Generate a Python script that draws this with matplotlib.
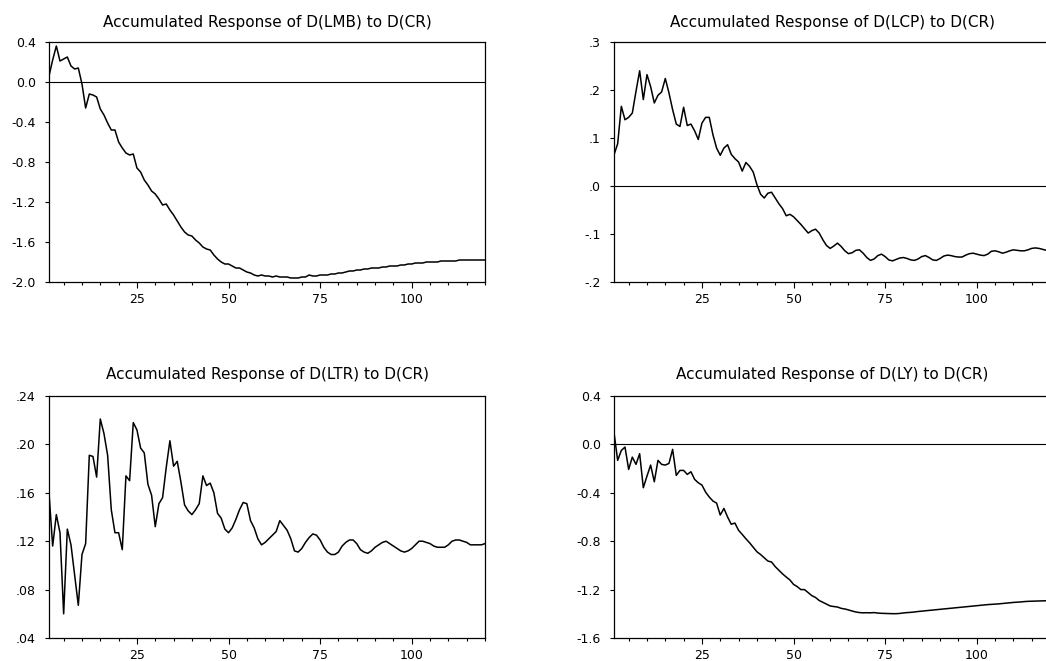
import matplotlib
matplotlib.use("Agg")
import matplotlib.pyplot as plt
import numpy as np

plt.rcParams['font.family'] = ['DejaVu Sans']

periods = np.arange(1, 121)

# accumulated responses, periods 1..120
lmb = [0.06, 0.22, 0.36, 0.21, 0.23, 0.25, 0.16, 0.13, 0.14, -0.02,
       -0.26, -0.12, -0.13, -0.15, -0.27, -0.33, -0.41, -0.48, -0.48, -0.60,
       -0.66, -0.71, -0.73, -0.72, -0.86, -0.90, -0.98, -1.03, -1.09, -1.12,
       -1.17, -1.23, -1.22, -1.28, -1.33, -1.39, -1.45, -1.50, -1.53, -1.54,
       -1.58, -1.61, -1.65, -1.67, -1.68, -1.73, -1.77, -1.80, -1.82, -1.82,
       -1.84, -1.86, -1.86, -1.88, -1.90, -1.91, -1.93, -1.94, -1.93, -1.94,
       -1.94, -1.95, -1.94, -1.95, -1.95, -1.95, -1.96, -1.96, -1.96, -1.95,
       -1.95, -1.93, -1.94, -1.94, -1.93, -1.93, -1.93, -1.92, -1.92, -1.91,
       -1.91, -1.90, -1.89, -1.89, -1.88, -1.88, -1.87, -1.87, -1.86, -1.86,
       -1.86, -1.85, -1.85, -1.84, -1.84, -1.84, -1.83, -1.83, -1.82, -1.82,
       -1.81, -1.81, -1.81, -1.80, -1.80, -1.80, -1.80, -1.79, -1.79, -1.79,
       -1.79, -1.79, -1.78, -1.78, -1.78, -1.78, -1.78, -1.78, -1.78, -1.78]

lcp = [0.065, 0.088, 0.166, 0.138, 0.143, 0.152, 0.197, 0.240, 0.180, 0.232,
       0.207, 0.173, 0.189, 0.196, 0.224, 0.194, 0.159, 0.129, 0.124, 0.164,
       0.126, 0.129, 0.115, 0.097, 0.131, 0.143, 0.143, 0.107, 0.079, 0.064,
       0.079, 0.086, 0.066, 0.057, 0.050, 0.031, 0.049, 0.041, 0.029, 0.003,
       -0.017, -0.025, -0.015, -0.013, -0.025, -0.037, -0.047, -0.062, -0.059, -0.064,
       -0.072, -0.080, -0.089, -0.098, -0.093, -0.090, -0.098, -0.112, -0.124, -0.130,
       -0.125, -0.119, -0.126, -0.135, -0.141, -0.139, -0.134, -0.133, -0.140, -0.149,
       -0.155, -0.152, -0.145, -0.142, -0.147, -0.154, -0.156, -0.153, -0.150, -0.149,
       -0.151, -0.154, -0.155, -0.152, -0.147, -0.145, -0.149, -0.154, -0.155, -0.151,
       -0.146, -0.144, -0.145, -0.147, -0.148, -0.148, -0.144, -0.141, -0.140, -0.142,
       -0.144, -0.145, -0.142, -0.136, -0.135, -0.137, -0.140, -0.138, -0.135, -0.133,
       -0.134, -0.135, -0.135, -0.133, -0.130, -0.129, -0.130, -0.132, -0.134, -0.134]

ltr = [0.160, 0.116, 0.142, 0.127, 0.060, 0.130, 0.117, 0.092, 0.067, 0.109,
       0.118, 0.191, 0.190, 0.173, 0.221, 0.209, 0.191, 0.146, 0.127, 0.127,
       0.113, 0.174, 0.170, 0.218, 0.212, 0.197, 0.193, 0.167, 0.158, 0.132,
       0.151, 0.156, 0.181, 0.203, 0.182, 0.186, 0.169, 0.150, 0.145, 0.142,
       0.146, 0.151, 0.174, 0.166, 0.168, 0.160, 0.143, 0.139, 0.130, 0.127,
       0.131, 0.138, 0.146, 0.152, 0.151, 0.137, 0.131, 0.122, 0.117, 0.119,
       0.122, 0.125, 0.128, 0.137, 0.133, 0.129, 0.122, 0.112, 0.111, 0.114,
       0.119, 0.123, 0.126, 0.125, 0.121, 0.115, 0.111, 0.109, 0.109, 0.111,
       0.116, 0.119, 0.121, 0.121, 0.118, 0.113, 0.111, 0.110, 0.112, 0.115,
       0.117, 0.119, 0.120, 0.118, 0.116, 0.114, 0.112, 0.111, 0.112, 0.114,
       0.117, 0.120, 0.120, 0.119, 0.118, 0.116, 0.115, 0.115, 0.115, 0.117,
       0.120, 0.121, 0.121, 0.120, 0.119, 0.117, 0.117, 0.117, 0.117, 0.118]

ly = [0.097, -0.132, -0.050, -0.022, -0.207, -0.105, -0.165, -0.077, -0.358, -0.262,
      -0.171, -0.309, -0.132, -0.165, -0.171, -0.157, -0.041, -0.256, -0.215, -0.215,
      -0.248, -0.226, -0.289, -0.317, -0.336, -0.394, -0.435, -0.468, -0.485, -0.584,
      -0.529, -0.600, -0.660, -0.650, -0.710, -0.744, -0.780, -0.813, -0.850, -0.887,
      -0.910, -0.937, -0.964, -0.972, -1.010, -1.040, -1.070, -1.096, -1.120, -1.157,
      -1.175, -1.200, -1.200, -1.225, -1.250, -1.265, -1.290, -1.305, -1.320, -1.335,
      -1.340, -1.344, -1.355, -1.360, -1.368, -1.377, -1.385, -1.390, -1.392, -1.391,
      -1.392, -1.390, -1.394, -1.396, -1.397, -1.398, -1.399, -1.399, -1.397, -1.393,
      -1.390, -1.388, -1.385, -1.381, -1.378, -1.375, -1.372, -1.369, -1.366, -1.363,
      -1.360, -1.357, -1.354, -1.351, -1.348, -1.345, -1.342, -1.339, -1.336, -1.333,
      -1.330, -1.327, -1.324, -1.322, -1.320, -1.318, -1.315, -1.312, -1.309, -1.306,
      -1.304, -1.302, -1.299, -1.297, -1.296, -1.295, -1.294, -1.293, -1.292, -1.291]

titles = ['Accumulated Response of D(LMB) to D(CR)',
          'Accumulated Response of D(LCP) to D(CR)',
          'Accumulated Response of D(LTR) to D(CR)',
          'Accumulated Response of D(LY) to D(CR)']

yticks_lmb = [-2.0, -1.6, -1.2, -0.8, -0.4, 0.0, 0.4]
ylabels_lmb = ['-2.0', '-1.6', '-1.2', '-0.8', '-0.4', '0.0', '0.4']
yticks_lcp = [-0.2, -0.1, 0.0, 0.1, 0.2, 0.3]
ylabels_lcp = ['-.2', '-.1', '.0', '.1', '.2', '.3']
yticks_ltr = [0.04, 0.08, 0.12, 0.16, 0.20, 0.24]
ylabels_ltr = ['.04', '.08', '.12', '.16', '.20', '.24']
yticks_ly = [-1.6, -1.2, -0.8, -0.4, 0.0, 0.4]
ylabels_ly = ['-1.6', '-1.2', '-0.8', '-0.4', '0.0', '0.4']

xticks_major = [25, 50, 75, 100]
xticks_minor = [5, 10, 15, 20, 30, 35, 40, 45, 55, 60, 65, 70, 80, 85, 90, 95, 105, 110, 115, 120]

panels = [
    (lmb, yticks_lmb, ylabels_lmb, True),
    (lcp, yticks_lcp, ylabels_lcp, True),
    (ltr, yticks_ltr, ylabels_ltr, False),
    (ly, yticks_ly, ylabels_ly, True),
]

fig = plt.figure(figsize=(10.46, 6.61), dpi=100)

W, H = 1046.0, 661.0
boxes = [(49, 42, 436, 240), (614, 42, 436, 240),
         (49, 396, 436, 242), (614, 396, 436, 242)]

for i, (vals, yt, yl, zero) in enumerate(panels):
    x0, y0, w, h = boxes[i]
    ax = fig.add_axes([x0 / W, 1 - (y0 + h) / H, w / W, h / H])
    ax.plot(periods, vals, color='black', lw=1.1)
    if zero:
        ax.axhline(0, color='black', lw=0.8)
    ax.set_xlim(1, 120)
    ax.set_ylim(yt[0], yt[-1])
    ax.set_yticks(yt)
    ax.set_yticklabels(yl)
    ax.set_xticks(xticks_major)
    ax.set_xticklabels([str(t) for t in xticks_major])
    ax.set_xticks(xticks_minor, minor=True)
    ax.tick_params(axis='x', which='major', direction='out', length=4.3, width=0.8, labelsize=9, pad=3.5)
    ax.tick_params(axis='x', which='minor', direction='out', length=2.2, width=0.8)
    ax.tick_params(axis='y', which='major', direction='out', length=3, width=0.8, labelsize=9, pad=6.5)
    for s in ax.spines.values():
        s.set_linewidth(0.9)
    pad = 11 if i < 2 else 12.5
    ax.set_title(titles[i], fontsize=11, pad=pad)

fig.savefig('out.png', dpi=100)
